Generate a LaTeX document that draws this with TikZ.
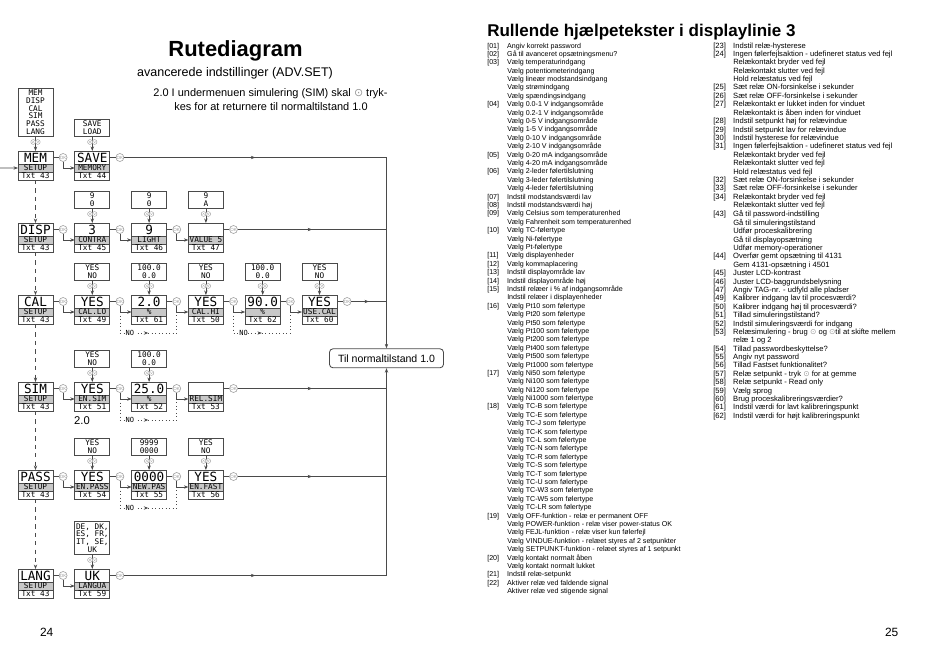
\documentclass[tikz,border=0pt]{standalone}
\usepackage{fontspec}
\setmainfont{Liberation Sans}
\newfontfamily\lcdfont{DejaVu Sans Mono}
\newfontfamily\symfont{DejaVu Sans}
\usetikzlibrary{arrows.meta,positioning,calc,decorations.markings}

\definecolor{lcdline}{HTML}{4A4A4A}
\definecolor{lcdstrip}{HTML}{C8C8C8}
\definecolor{okgray}{HTML}{9A9A9A}

\newcommand{\lcdbox}[6]{%
  \node[lcdtop] (#1) at (#2,#3) {#4};
  \node[lcdmid, below=0pt of #1] (#1m) {#5};
  \node[lcdbot, below=0pt of #1m] (#1b) {#6};}
\newcommand{\updn}[3]{%
  \node[keyup] (#1u) at (#2-2.3,#3) {};
  \node[keydn] (#1d) at (#2+2.3,#3) {};}
\newcommand{\nr}[1]{[#1]}
\newcommand{\okey}{{\symfont\color{okgray}⊙}}

\begin{document}
\begin{tikzpicture}[x=0.025cm, y=-0.025cm, >={Stealth[length=3.2pt,width=2.4pt]},
  lcdtop/.style={draw=lcdline, line width=0.6pt, fill=white, outer sep=0pt, inner sep=0pt,
    minimum width=0.875cm, minimum height=0.325cm, text height=6.6pt, text depth=0pt,
    font=\lcdfont\fontsize{9}{9}\selectfont},
  lcdmid/.style={lcdtop, fill=lcdstrip, minimum height=0.2cm, text height=4pt,
    font=\lcdfont\fontsize{5.5}{5.5}\selectfont},
  lcdbot/.style={lcdmid, fill=white},
  opt/.style={draw=lcdline, line width=0.5pt, inner xsep=0pt, inner ysep=1.3pt,
    minimum width=0.875cm, align=center, font=\lcdfont\fontsize{5.5}{5.6}\selectfont},
  ok/.style={circle, draw=okgray, fill=white, line width=0.4pt, inner sep=0pt,
    minimum size=0.2cm, text=okgray, font=\fontsize{3.2}{3.2}\selectfont},
  key/.style={circle, draw=okgray, fill=white, line width=0.3pt, inner sep=0pt, minimum size=0.12cm},
  keyup/.style={key, path picture={\draw[okgray, line width=0.3pt]
    ([xshift=-0.7pt, yshift=-0.35pt]path picture bounding box.center) -- ++(0.7pt,0.7pt) -- ++(0.7pt,-0.7pt);}},
  keydn/.style={key, path picture={\draw[okgray, line width=0.3pt]
    ([xshift=-0.7pt, yshift=0.35pt]path picture bounding box.center) -- ++(0.7pt,-0.7pt) -- ++(0.7pt,0.7pt);}},
  wire/.style={draw=lcdline, line width=0.5pt},
  row/.style={draw=lcdline, line width=0.9pt},
  midarrow/.style={postaction={decorate}, decoration={markings, mark=at position 0.5 with {\arrow{>}}}},
  nopath/.style={draw=lcdline, line width=0.5pt, dotted, midarrow},
  nolbl/.style={fill=white, inner sep=0.3pt, font=\lcdfont\fontsize{5}{5}\selectfont},
  tilbox/.style={draw=lcdline, line width=0.6pt, rounded corners=2.5pt, minimum width=2.85cm,
    minimum height=0.475cm, inner sep=0pt, font=\fontsize{7.5}{7.5}\selectfont},
  lst/.style={anchor=base west, inner sep=0pt, font=\fontsize{5.05}{5.97}\selectfont}]
    \useasboundingbox (0,0) rectangle (950,671);

    \node[anchor=base, font=\fontsize{15.6}{17}\selectfont\bfseries] (title) at (235.5,56.5) {Rutediagram};
    \node[anchor=base, font=\fontsize{8.9}{9}\selectfont] (subtitle) at (235,76.5) {avancerede indstillinger (ADV.SET)};
    \node[anchor=base, font=\fontsize{7.8}{8}\selectfont] (note1) at (270.5,96.5) {2.0 I undermenuen simulering (SIM) skal \okey{} tryk-};
    \node[anchor=base, font=\fontsize{7.8}{8}\selectfont] (note2) at (271,110) {kes for at returnere til normaltilstand 1.0};

    \node[opt, anchor=south] (lmem) at (35.5,137) {MEM\\DISP\\CAL\\SIM\\PASS\\LANG};
    \node[opt, anchor=south] (lsave) at (92.3,137) {SAVE\\LOAD};
    \lcdbox{mem}{35.5}{157.5}{MEM}{SETUP}{Txt 43}
    \lcdbox{save}{92.3}{157.5}{SAVE}{MEMORY}{Txt 44}
    \node[ok] (okm1) at (63.1,157.5) {OK};
    \node[ok] (okm2) at (119.9,157.5) {OK};

    \node[opt, anchor=south] (lcontra) at (92.3,209) {9\\0};
    \node[opt, anchor=south] (llight) at (149.1,209) {9\\0};
    \node[opt, anchor=south] (lvalue) at (205.9,209) {9\\A};
    \lcdbox{disp}{35.5}{229.5}{DISP}{SETUP}{Txt 43}
    \lcdbox{contra}{92.3}{229.5}{3}{CONTRA}{Txt 45}
    \lcdbox{light}{149.1}{229.5}{9}{LIGHT}{Txt 46}
    \lcdbox{value}{205.9}{229.5}{}{VALUE 5}{Txt 47}
    \node[ok] (okd1) at (63.1,229.5) {OK};
    \node[ok] (okd2) at (119.9,229.5) {OK};
    \node[ok] (okd3) at (176.7,229.5) {OK};
    \node[ok] (okd4) at (233.5,229.5) {OK};

    \node[opt, anchor=south] (lcallo) at (92.3,281) {YES\\NO};
    \node[opt, anchor=south] (lcalpct) at (149.1,281) {100.0\\0.0};
    \node[opt, anchor=south] (lcalhi) at (205.9,281) {YES\\NO};
    \node[opt, anchor=south] (lcalpcth) at (262.7,281) {100.0\\0.0};
    \node[opt, anchor=south] (lusecal) at (319.5,281) {YES\\NO};
    \lcdbox{cal}{35.5}{301.5}{CAL}{SETUP}{Txt 43}
    \lcdbox{callo}{92.3}{301.5}{YES}{CAL.LO}{Txt 49}
    \lcdbox{calpct}{149.1}{301.5}{2.0}{\%}{Txt 61}
    \lcdbox{calhi}{205.9}{301.5}{YES}{CAL.HI}{Txt 50}
    \lcdbox{calpcth}{262.7}{301.5}{90.0}{\%}{Txt 62}
    \lcdbox{usecal}{319.5}{301.5}{YES}{USE.CAL}{Txt 60}
    \node[ok] (okc1) at (63.1,301.5) {OK};
    \node[ok] (okc2) at (119.9,301.5) {OK};
    \node[ok] (okc3) at (176.7,301.5) {OK};
    \node[ok] (okc4) at (233.5,301.5) {OK};
    \node[ok] (okc5) at (290.3,301.5) {OK};
    \node[ok] (okc6) at (347.1,301.5) {OK};

    \node[opt, anchor=south] (lensim) at (92.3,368) {YES\\NO};
    \node[opt, anchor=south] (lsimval) at (149.1,368) {100.0\\0.0};
    \lcdbox{sim}{35.5}{388.5}{SIM}{SETUP}{Txt 43}
    \lcdbox{ensim}{92.3}{388.5}{YES}{EN.SIM}{Txt 51}
    \lcdbox{simval}{149.1}{388.5}{25.0}{\%}{Txt 52}
    \lcdbox{relsim}{205.9}{388.5}{}{REL.SIM}{Txt 53}
    \node[ok] (oks1) at (63.1,388.5) {OK};
    \node[ok] (oks2) at (119.9,388.5) {OK};
    \node[ok] (oks3) at (176.7,388.5) {OK};
    \node[ok] (oks4) at (233.5,388.5) {OK};
    \node[font=\fontsize{8}{8}\selectfont] (simnote) at (82,421) {2.0};

    \node[opt, anchor=south] (lenpass) at (92.3,456) {YES\\NO};
    \node[opt, anchor=south] (lnewpas) at (149.1,456) {9999\\0000};
    \node[opt, anchor=south] (lenfast) at (205.9,456) {YES\\NO};
    \lcdbox{pass}{35.5}{476.5}{PASS}{SETUP}{Txt 43}
    \lcdbox{enpass}{92.3}{476.5}{YES}{EN.PASS}{Txt 54}
    \lcdbox{newpas}{149.1}{476.5}{0000}{NEW.PAS}{Txt 55}
    \lcdbox{enfast}{205.9}{476.5}{YES}{EN.FAST}{Txt 56}
    \node[ok] (okp1) at (63.1,476.5) {OK};
    \node[ok] (okp2) at (119.9,476.5) {OK};
    \node[ok] (okp3) at (176.7,476.5) {OK};
    \node[ok] (okp4) at (233.5,476.5) {OK};

    \node[opt, anchor=south] (llangua) at (92.3,555) {DE, DK,\\ES, FR,\\IT, SE,\\UK};
    \lcdbox{lang}{35.5}{575.5}{LANG}{SETUP}{Txt 43}
    \lcdbox{langua}{92.3}{575.5}{UK}{LANGUA}{Txt 59}
    \node[ok] (okl1) at (63.1,575.5) {OK};
    \node[ok] (okl2) at (119.9,575.5) {OK};

    \node[tilbox] (til) at (386.5,358.3) {Til normaltilstand 1.0};
    \coordinate (in) at (0,168);
    \coordinate (jm) at (386.5,157.5);
    \coordinate (jd) at (386.5,229.5);
    \coordinate (jc) at (386.5,301.5);
    \coordinate (js) at (386.5,388.5);
    \coordinate (jp) at (386.5,476.5);
    \coordinate (jl) at (386.5,575.5);

    \draw[wire,->] (in) -- (memm);
    \draw[wire,->] (lmem) -- (mem);
    \draw[wire,->] (lsave) -- (save);
    \draw[wire] (mem) -- (okm1);
    \draw[wire,->] (okm1) |- (savem);
    \draw[wire] (save) -- (okm2);
    \draw[row,midarrow] (okm2) -- (jm);
    \draw[row,->] (jm) -- (til);

    \draw[wire,->] (lcontra) -- (contra);
    \draw[wire,->] (llight) -- (light);
    \draw[wire,->] (lvalue) -- (value);
    \draw[wire] (disp) -- (okd1);
    \draw[wire,->] (okd1) |- (contram);
    \draw[wire] (contra) -- (okd2);
    \draw[wire,->] (okd2) |- (lightm);
    \draw[wire] (light) -- (okd3);
    \draw[wire,->] (okd3) |- (valuem);
    \draw[wire] (value) -- (okd4);
    \draw[wire,midarrow] (okd4) -- (jd);

    \draw[wire,->] (lcallo) -- (callo);
    \draw[wire,->] (lcalpct) -- (calpct);
    \draw[wire,->] (lcalhi) -- (calhi);
    \draw[wire,->] (lcalpcth) -- (calpcth);
    \draw[wire,->] (lusecal) -- (usecal);
    \draw[wire] (cal) -- (okc1);
    \draw[wire,->] (okc1) |- (callom);
    \draw[wire] (callo) -- (okc2);
    \draw[wire,->] (okc2) |- (calpctm);
    \draw[wire] (calpct) -- (okc3);
    \draw[wire,->] (okc3) |- (calhim);
    \draw[wire] (calhi) -- (okc4);
    \draw[wire,->] (okc4) |- (calpcthm);
    \draw[wire] (calpcth) -- (okc5);
    \draw[wire,->] (okc5) |- (usecalm);
    \draw[wire] (usecal) -- (okc6);
    \draw[wire,midarrow] (okc6) -- (jc);
    \draw[nopath] (okc2 |- calpctm) -- ++(0,21) coordinate (nc1) -| (okc3 |- calhim);
    \draw[nopath] (okc4 |- calpcthm) -- ++(0,21) coordinate (nc2) -| (okc5 |- usecalm);
    \node[nolbl] (cno1) at ($(nc1)+(10,0)$) {NO};
    \node[nolbl] (cno2) at ($(nc2)+(10,0)$) {NO};

    \draw[wire,->] (lensim) -- (ensim);
    \draw[wire,->] (lsimval) -- (simval);
    \draw[wire] (sim) -- (oks1);
    \draw[wire,->] (oks1) |- (ensimm);
    \draw[wire] (ensim) -- (oks2);
    \draw[wire,->] (oks2) |- (simvalm);
    \draw[wire] (simval) -- (oks3);
    \draw[wire,->] (oks3) |- (relsimm);
    \draw[wire] (relsim) -- (oks4);
    \draw[wire,midarrow] (oks4) -- (js);
    \draw[nopath] (oks2 |- simvalm) -- ++(0,21) coordinate (ns1) -| (oks3 |- relsimm);
    \node[nolbl] (sno1) at ($(ns1)+(10,0)$) {NO};

    \draw[wire,->] (lenpass) -- (enpass);
    \draw[wire,->] (lnewpas) -- (newpas);
    \draw[wire,->] (lenfast) -- (enfast);
    \draw[wire] (pass) -- (okp1);
    \draw[wire,->] (okp1) |- (enpassm);
    \draw[wire] (enpass) -- (okp2);
    \draw[wire,->] (okp2) |- (newpasm);
    \draw[wire] (newpas) -- (okp3);
    \draw[wire,->] (okp3) |- (enfastm);
    \draw[wire] (enfast) -- (okp4);
    \draw[row,midarrow] (okp4) -- (jp);
    \draw[nopath] (okp2 |- newpasm) -- ++(0,21) coordinate (np1) -| (okp3 |- enfastm);
    \node[nolbl] (pno1) at ($(np1)+(10,0)$) {NO};

    \draw[wire,->] (llangua) -- (langua);
    \draw[wire] (lang) -- (okl1);
    \draw[wire,->] (okl1) |- (languam);
    \draw[wire] (langua) -- (okl2);
    \draw[row,midarrow] (okl2) -- (jl);
    \draw[row,->] (jl) -- (til);

    \draw[wire,dashed,->] (memb) -- (disp);
    \draw[wire,dashed,->] (dispb) -- (cal);
    \draw[wire,dashed,->] (calb) -- (sim);
    \draw[wire,dashed,->] (simb) -- (pass);
    \draw[wire,dashed,->] (passb) -- (lang);

    \updn{kmem}{35.5}{142}
    \updn{ksave}{92.3}{142}
    \updn{kcontra}{92.3}{214}
    \updn{klight}{149.1}{214}
    \updn{kvalue}{205.9}{214}
    \updn{kcallo}{92.3}{286}
    \updn{kcalpct}{149.1}{286}
    \updn{kcalhi}{205.9}{286}
    \updn{kcalpcth}{262.7}{286}
    \updn{kusecal}{319.5}{286}
    \updn{kensim}{92.3}{373}
    \updn{ksimval}{149.1}{373}
    \updn{kenpass}{92.3}{461}
    \updn{knewpas}{149.1}{461}
    \updn{kenfast}{205.9}{461}
    \updn{klangua}{92.3}{560}

    \node[anchor=base, font=\fontsize{8.5}{8.5}\selectfont] (pg24) at (46.7,636.5) {24};
    \node[anchor=base, font=\fontsize{8.5}{8.5}\selectfont] (pg25) at (891.7,636.5) {25};

    \node[anchor=base west, inner sep=0pt, font=\fontsize{12.1}{12}\selectfont\bfseries] (rtitle) at (487,36) {Rullende hjælpetekster i displaylinie 3};

    \node[lst] (listl) at (487,48) {\begin{tabular}[t]{@{}p{14.2pt}@{}l@{}}
    \nr{01} & Angiv korrekt password\\
    \nr{02} & Gå til avanceret opsætningsmenu?\\
    \nr{03} & Vælg temperaturindgang\\
     & Vælg potentiometerindgang\\
     & Vælg lineær modstandsindgang\\
     & Vælg strømindgang\\
     & Vælg spændingsindgang\\
    \nr{04} & Vælg 0.0-1 V indgangsområde\\
     & Vælg 0.2-1 V indgangsområde\\
     & Vælg 0-5 V indgangsområde\\
     & Vælg 1-5 V indgangsområde\\
     & Vælg 0-10 V indgangsområde\\
     & Vælg 2-10 V indgangsområde\\
    \nr{05} & Vælg 0-20 mA indgangsområde\\
     & Vælg 4-20 mA indgangsområde\\
    \nr{06} & Vælg 2-leder følertilslutning\\
     & Vælg 3-leder følertilslutning\\
     & Vælg 4-leder følertilslutning\\
    \nr{07} & Indstil modstandsværdi lav\\
    \nr{08} & Indstil modstandsværdi høj\\
    \nr{09} & Vælg Celsius som temperaturenhed\\
     & Vælg Fahrenheit som temperaturenhed\\
    \nr{10} & Vælg TC-følertype\\
     & Vælg Ni-følertype\\
     & Vælg Pt-følertype\\
    \nr{11} & Vælg displayenheder\\
    \nr{12} & Vælg kommaplacering\\
    \nr{13} & Indstil displayområde lav\\
    \nr{14} & Indstil displayområde høj\\
    \nr{15} & Indstil relæer i \% af indgangsområde\\
     & Indstil relæer i displayenheder\\
    \nr{16} & Vælg Pt10 som følertype\\
     & Vælg Pt20 som følertype\\
     & Vælg Pt50 som følertype\\
     & Vælg Pt100 som følertype\\
     & Vælg Pt200 som følertype\\
     & Vælg Pt400 som følertype\\
     & Vælg Pt500 som følertype\\
     & Vælg Pt1000 som følertype\\
    \nr{17} & Vælg Ni50 som følertype\\
     & Vælg Ni100 som følertype\\
     & Vælg Ni120 som følertype\\
     & Vælg Ni1000 som følertype\\
    \nr{18} & Vælg TC-B som følertype\\
     & Vælg TC-E som følertype\\
     & Vælg TC-J som følertype\\
     & Vælg TC-K som følertype\\
     & Vælg TC-L som følertype\\
     & Vælg TC-N som følertype\\
     & Vælg TC-R som følertype\\
     & Vælg TC-S som følertype\\
     & Vælg TC-T som følertype\\
     & Vælg TC-U som følertype\\
     & Vælg TC-W3 som følertype\\
     & Vælg TC-W5 som følertype\\
     & Vælg TC-LR som følertype\\
    \nr{19} & Vælg OFF-funktion - relæ er permanent OFF\\
     & Vælg POWER-funktion - relæ viser power-status OK\\
     & Vælg FEJL-funktion - relæ viser kun følerfejl\\
     & Vælg VINDUE-funktion - relæet styres af 2 setpunkter\\
     & Vælg SETPUNKT-funktion - relæet styres af 1 setpunkt\\
    \nr{20} & Vælg kontakt normalt åben\\
     & Vælg kontakt normalt lukket\\
    \nr{21} & Indstil relæ-setpunkt\\
    \nr{22} & Aktiver relæ ved faldende signal\\
     & Aktiver relæ ved stigende signal
    \end{tabular}};

    \node[lst, font=\fontsize{5.4}{5.97}\selectfont] (listr) at (713,48) {\begin{tabular}[t]{@{}p{14.2pt}@{}l@{}}
    \nr{23} & Indstil relæ-hysterese\\
    \nr{24} & Ingen følerfejlsaktion - udefineret status ved fejl\\
     & Relækontakt bryder ved fejl\\
     & Relækontakt slutter ved fejl\\
     & Hold relæstatus ved fejl\\
    \nr{25} & Sæt relæ ON-forsinkelse i sekunder\\
    \nr{26} & Sæt relæ OFF-forsinkelse i sekunder\\
    \nr{27} & Relækontakt er lukket inden for vinduet\\
     & Relækontakt is åben inden for vinduet\\
    \nr{28} & Indstil setpunkt høj for relævindue\\
    \nr{29} & Indstil setpunkt lav for relævindue\\
    \nr{30} & Indstil hysterese for relævindue\\
    \nr{31} & Ingen følerfejlsaktion - udefineret status ved fejl\\
     & Relækontakt bryder ved fejl\\
     & Relækontakt slutter ved fejl\\
     & Hold relæstatus ved fejl\\
    \nr{32} & Sæt relæ ON-forsinkelse i sekunder\\
    \nr{33} & Sæt relæ OFF-forsinkelse i sekunder\\
    \nr{34} & Relækontakt bryder ved fejl\\
     & Relækontakt slutter ved fejl\\
    \nr{43} & Gå til password-indstilling\\
     & Gå til simuleringstilstand\\
     & Udfør proceskalibrering\\
     & Gå til displayopsætning\\
     & Udfør memory-operationer\\
    \nr{44} & Overfør gemt opsætning til 4131\\
     & Gem 4131-opsætning i 4501\\
    \nr{45} & Juster LCD-kontrast\\
    \nr{46} & Juster LCD-baggrundsbelysning\\
    \nr{47} & Angiv TAG-nr. - udfyld alle pladser\\
    \nr{49} & Kalibrer indgang lav til procesværdi?\\
    \nr{50} & Kalibrer indgang høj til procesværdi?\\
    \nr{51} & Tillad simuleringstilstand?\\
    \nr{52} & Indstil simuleringsværdi for indgang\\
    \nr{53} & Relæsimulering - brug \okey{} og \okey til at skifte mellem\\
     & relæ 1 og 2\\
    \nr{54} & Tillad passwordbeskyttelse?\\
    \nr{55} & Angiv nyt password\\
    \nr{56} & Tillad Fastset funktionalitet?\\
    \nr{57} & Relæ setpunkt - tryk \okey{} for at gemme\\
    \nr{58} & Relæ setpunkt - Read only\\
    \nr{59} & Vælg sprog\\
    \nr{60} & Brug proceskalibreringsværdier?\\
    \nr{61} & Indstil værdi for lavt kalibreringspunkt\\
    \nr{62} & Indstil værdi for højt kalibreringspunkt
    \end{tabular}};
\end{tikzpicture}
\end{document}
